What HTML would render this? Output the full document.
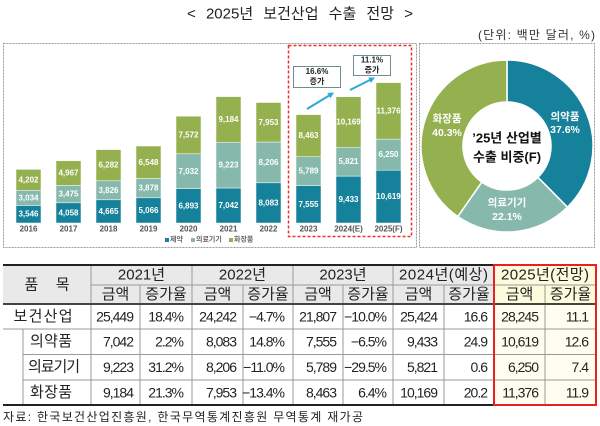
<!DOCTYPE html>
<html><head><meta charset="utf-8"><style>
html,body{margin:0;padding:0;background:#fff;}
svg{display:block;font-family:"Liberation Sans","Noto Sans CJK KR",sans-serif;}
.bl{font-size:8px;font-weight:bold;fill:#fff;text-anchor:middle;dominant-baseline:central;}
.yr{font-size:8px;font-weight:bold;fill:#555;text-anchor:middle;dominant-baseline:central;}
.th{font-size:15px;fill:#222;text-anchor:middle;dominant-baseline:central;}
.n{font-size:14px;fill:#222;text-anchor:end;dominant-baseline:central;letter-spacing:-1px;}
.rl{font-size:15px;fill:#222;text-anchor:middle;dominant-baseline:central;}
.dl{font-size:10.5px;font-weight:bold;fill:#fff;text-anchor:middle;dominant-baseline:central;}
</style></head><body>
<svg width="600" height="426" viewBox="0 0 600 426" xmlns="http://www.w3.org/2000/svg">
<!-- title -->
<text x="300" y="14" text-anchor="middle" dominant-baseline="central" font-size="15" fill="#222" word-spacing="6">&lt; 2025년 보건산업 수출 전망 &gt;</text>
<text x="595" y="35" text-anchor="end" dominant-baseline="central" font-size="12" fill="#333" textLength="117">(단위: 백만 달러, %)</text>

<!-- boxes -->
<rect x="3.5" y="43.5" width="413" height="204" fill="none" stroke="#9a9a9a" stroke-dasharray="2 1"/>
<rect x="419.5" y="43.5" width="175" height="204" fill="none" stroke="#9a9a9a" stroke-dasharray="2 1"/>
<rect x="288.5" y="45.5" width="123" height="191" fill="none" stroke="#e8302a" stroke-width="1.5" stroke-dasharray="3 2"/>

<!-- bars -->
<g stroke="#fff" stroke-width="0.5">
<rect x="16" y="205.4" width="25" height="17.6" fill="#16819a"/><rect x="16" y="190.3" width="25" height="15.1" fill="#86b9ab"/><rect x="16" y="169.4" width="25" height="20.9" fill="#95b04e"/>
<rect x="56" y="202.8" width="25" height="20.2" fill="#16819a"/><rect x="56" y="185.5" width="25" height="17.3" fill="#86b9ab"/><rect x="56" y="160.8" width="25" height="24.7" fill="#95b04e"/>
<rect x="96" y="199.8" width="25" height="23.2" fill="#16819a"/><rect x="96" y="180.8" width="25" height="19.0" fill="#86b9ab"/><rect x="96" y="149.6" width="25" height="31.2" fill="#95b04e"/>
<rect x="136" y="197.8" width="25" height="25.2" fill="#16819a"/><rect x="136" y="178.5" width="25" height="19.3" fill="#86b9ab"/><rect x="136" y="146.0" width="25" height="32.5" fill="#95b04e"/>
<rect x="176" y="188.7" width="25" height="34.3" fill="#16819a"/><rect x="176" y="153.8" width="25" height="34.9" fill="#86b9ab"/><rect x="176" y="116.2" width="25" height="37.6" fill="#95b04e"/>
<rect x="216" y="188.0" width="25" height="35.0" fill="#16819a"/><rect x="216" y="142.2" width="25" height="45.8" fill="#86b9ab"/><rect x="216" y="96.6" width="25" height="45.6" fill="#95b04e"/>
<rect x="256" y="182.8" width="25" height="40.2" fill="#16819a"/><rect x="256" y="142.0" width="25" height="40.8" fill="#86b9ab"/><rect x="256" y="102.5" width="25" height="39.5" fill="#95b04e"/>
<rect x="296" y="185.5" width="25" height="37.5" fill="#16819a"/><rect x="296" y="156.7" width="25" height="28.8" fill="#86b9ab"/><rect x="296" y="114.6" width="25" height="42.1" fill="#95b04e"/>
<rect x="336" y="176.1" width="25" height="46.9" fill="#16819a"/><rect x="336" y="147.2" width="25" height="28.9" fill="#86b9ab"/><rect x="336" y="96.7" width="25" height="50.5" fill="#95b04e"/>
<rect x="376" y="170.2" width="25" height="52.8" fill="#16819a"/><rect x="376" y="139.1" width="25" height="31.1" fill="#86b9ab"/><rect x="376" y="82.6" width="25" height="56.5" fill="#95b04e"/>
</g>
<!-- bar labels -->
<text class="bl" x="28.5" y="214.2">3,546</text><text class="bl" x="28.5" y="197.9">3,034</text><text class="bl" x="28.5" y="179.9">4,202</text>
<text class="bl" x="68.5" y="212.9">4,058</text><text class="bl" x="68.5" y="194.2">3,475</text><text class="bl" x="68.5" y="173.2">4,967</text>
<text class="bl" x="108.5" y="211.4">4,665</text><text class="bl" x="108.5" y="190.3">3,826</text><text class="bl" x="108.5" y="165.2">6,282</text>
<text class="bl" x="148.5" y="210.4">5,066</text><text class="bl" x="148.5" y="188.2">3,878</text><text class="bl" x="148.5" y="162.3">6,548</text>
<text class="bl" x="188.5" y="205.9">6,893</text><text class="bl" x="188.5" y="171.3">7,032</text><text class="bl" x="188.5" y="135.0">7,572</text>
<text class="bl" x="228.5" y="205.5">7,042</text><text class="bl" x="228.5" y="165.1">9,223</text><text class="bl" x="228.5" y="119.4">9,184</text>
<text class="bl" x="268.5" y="202.9">8,083</text><text class="bl" x="268.5" y="162.4">8,206</text><text class="bl" x="268.5" y="122.3">7,953</text>
<text class="bl" x="308.5" y="204.3">7,555</text><text class="bl" x="308.5" y="171.1">5,789</text><text class="bl" x="308.5" y="135.7">8,463</text>
<text class="bl" x="348.5" y="199.6">9,433</text><text class="bl" x="348.5" y="161.7">5,821</text><text class="bl" x="348.5" y="122.0">10,169</text>
<text class="bl" x="388.5" y="196.6">10,619</text><text class="bl" x="388.5" y="154.7">6,250</text><text class="bl" x="388.5" y="110.9">11,376</text>

<!-- year labels -->
<text class="yr" x="28.5" y="229">2016</text><text class="yr" x="68.5" y="229">2017</text><text class="yr" x="108.5" y="229">2018</text>
<text class="yr" x="148.5" y="229">2019</text><text class="yr" x="188.5" y="229">2020</text><text class="yr" x="228.5" y="229">2021</text>
<text class="yr" x="268.5" y="229">2022</text><text class="yr" x="308.5" y="229">2023</text><text class="yr" x="348.5" y="229">2024(E)</text>
<text class="yr" x="388.5" y="229">2025(F)</text>

<!-- legend -->
<rect x="165" y="238" width="4" height="4" fill="#16819a"/>
<text x="170" y="240" dominant-baseline="central" font-size="7" font-weight="bold" fill="#666">제약</text>
<rect x="191" y="238" width="4" height="4" fill="#86b9ab"/>
<text x="196" y="240" dominant-baseline="central" font-size="7" font-weight="bold" fill="#666">의료기기</text>
<rect x="229" y="238" width="4" height="4" fill="#95b04e"/>
<text x="234" y="240" dominant-baseline="central" font-size="7" font-weight="bold" fill="#666">화장품</text>

<!-- arrows -->
<line x1="307" y1="109" x2="329" y2="95.6" stroke="#2aa8d6" stroke-width="2"/>
<polygon points="334,92.5 330.5,98.2 327.3,93.0" fill="#2aa8d6"/>
<line x1="350" y1="90" x2="370" y2="80" stroke="#2aa8d6" stroke-width="2"/>
<polygon points="375,77.5 370.9,82.9 368.3,77.5" fill="#2aa8d6"/>

<!-- callouts -->
<rect x="293.5" y="66.5" width="47" height="21" fill="#fff" stroke="#6e8d96"/>
<text x="317" y="71.5" text-anchor="middle" dominant-baseline="central" font-size="8" font-weight="bold" fill="#222">16.6%</text>
<text x="317" y="81.5" text-anchor="middle" dominant-baseline="central" font-size="8" font-weight="bold" fill="#222">증가</text>
<rect x="353.5" y="55.5" width="37" height="20" fill="#fff" stroke="#6e8d96"/>
<text x="372" y="60" text-anchor="middle" dominant-baseline="central" font-size="8" font-weight="bold" fill="#222">11.1%</text>
<text x="372" y="70" text-anchor="middle" dominant-baseline="central" font-size="8" font-weight="bold" fill="#222">증가</text>

<!-- donut -->
<g stroke="#fff" stroke-width="1.5">
<path d="M507,60 A86,86 0 0 1 567.43,207.19 L537.92,177.31 A44,44 0 0 0 507,102 Z" fill="#16819a"/>
<path d="M567.43,207.19 A86,86 0 0 1 457.77,216.52 L481.81,182.08 A44,44 0 0 0 537.92,177.31 Z" fill="#86b9ab"/>
<path d="M457.77,216.52 A86,86 0 0 1 507,60 L507,102 A44,44 0 0 0 481.81,182.08 Z" fill="#95b04e"/>
</g>
<text class="dl" x="565" y="117">의약품</text><text class="dl" x="565" y="130">37.6%</text>
<text class="dl" x="447" y="119">화장품</text><text class="dl" x="447" y="133">40.3%</text>
<text class="dl" x="507" y="203">의료기기</text><text class="dl" x="507" y="217">22.1%</text>
<text x="507" y="138" text-anchor="middle" dominant-baseline="central" font-size="13" font-weight="bold" fill="#111">’25년 산업별</text>
<text x="507" y="157" text-anchor="middle" dominant-baseline="central" font-size="13" font-weight="bold" fill="#111">수출 비중(F)</text>

<!-- table backgrounds -->
<rect x="3" y="265" width="491" height="39" fill="#e9e9e9"/>
<rect x="494" y="265" width="102" height="39" fill="#fcfbdc"/>
<rect x="494" y="304" width="102" height="101" fill="#fefef0"/>
<!-- table lines -->
<g stroke="#999" stroke-width="1">
<line x1="91" y1="285" x2="596" y2="285"/>
<line x1="3" y1="329" x2="596" y2="329"/>
<line x1="23" y1="354.5" x2="596" y2="354.5"/>
<line x1="23" y1="380" x2="596" y2="380"/>
<line x1="91" y1="265" x2="91" y2="405"/>
<line x1="192" y1="265" x2="192" y2="405"/>
<line x1="293" y1="265" x2="293" y2="405"/>
<line x1="393" y1="265" x2="393" y2="405"/>
<line x1="140" y1="285" x2="140" y2="405"/>
<line x1="243" y1="285" x2="243" y2="405"/>
<line x1="343" y1="285" x2="343" y2="405"/>
<line x1="444" y1="285" x2="444" y2="405"/>
<line x1="545" y1="285" x2="545" y2="405"/>
<line x1="23" y1="329" x2="23" y2="405"/>
</g>
<line x1="3" y1="265" x2="494" y2="265" stroke="#222" stroke-width="2"/>
<line x1="3" y1="304" x2="596" y2="304" stroke="#444" stroke-width="2"/>
<line x1="3" y1="405" x2="494" y2="405" stroke="#222" stroke-width="2"/>
<rect x="494" y="265" width="102" height="140" fill="none" stroke="#e82020" stroke-width="2"/>

<!-- table header text -->
<text class="th" x="47" y="285" textLength="45">품 목</text>
<text class="th" x="141.5" y="275">2021년</text>
<text class="th" x="242.5" y="275">2022년</text>
<text class="th" x="343" y="275">2023년</text>
<text class="th" x="443.5" y="275" textLength="89">2024년(예상)</text>
<text class="th" x="545" y="275" textLength="88">2025년(전망)</text>
<text class="th" x="115.5" y="294.5">금액</text><text class="th" x="166" y="294.5">증가율</text>
<text class="th" x="217.5" y="294.5">금액</text><text class="th" x="268" y="294.5">증가율</text>
<text class="th" x="318" y="294.5">금액</text><text class="th" x="368" y="294.5">증가율</text>
<text class="th" x="418.5" y="294.5">금액</text><text class="th" x="469" y="294.5">증가율</text>
<text class="th" x="519.5" y="294.5">금액</text><text class="th" x="570.5" y="294.5">증가율</text>

<!-- row labels -->
<text class="rl" x="43" y="316.5" textLength="59">보건산업</text>
<text class="rl" x="51" y="341.5" textLength="42">의약품</text>
<text class="rl" x="54" y="367" textLength="52">의료기기</text>
<text class="rl" x="51" y="392.5" textLength="42">화장품</text>

<!-- row 1 -->
<text class="n" x="133" y="316.5">25,449</text><text class="n" x="183" y="316.5">18.4%</text>
<text class="n" x="236" y="316.5">24,242</text><text class="n" x="284" y="316.5">−4.7%</text>
<text class="n" x="336" y="316.5">21,807</text><text class="n" x="386" y="316.5">−10.0%</text>
<text class="n" x="437" y="316.5">25,424</text><text class="n" x="487" y="316.5">16.6</text>
<text class="n" x="538" y="316.5">28,245</text><text class="n" x="588" y="316.5">11.1</text>
<!-- row 2 -->
<text class="n" x="133" y="341.5">7,042</text><text class="n" x="183" y="341.5">2.2%</text>
<text class="n" x="236" y="341.5">8,083</text><text class="n" x="284" y="341.5">14.8%</text>
<text class="n" x="336" y="341.5">7,555</text><text class="n" x="386" y="341.5">−6.5%</text>
<text class="n" x="437" y="341.5">9,433</text><text class="n" x="487" y="341.5">24.9</text>
<text class="n" x="538" y="341.5">10,619</text><text class="n" x="588" y="341.5">12.6</text>
<!-- row 3 -->
<text class="n" x="133" y="367">9,223</text><text class="n" x="183" y="367">31.2%</text>
<text class="n" x="236" y="367">8,206</text><text class="n" x="284" y="367">−11.0%</text>
<text class="n" x="336" y="367">5,789</text><text class="n" x="386" y="367">−29.5%</text>
<text class="n" x="437" y="367">5,821</text><text class="n" x="487" y="367">0.6</text>
<text class="n" x="538" y="367">6,250</text><text class="n" x="588" y="367">7.4</text>
<!-- row 4 -->
<text class="n" x="133" y="392.5">9,184</text><text class="n" x="183" y="392.5">21.3%</text>
<text class="n" x="236" y="392.5">7,953</text><text class="n" x="284" y="392.5">−13.4%</text>
<text class="n" x="336" y="392.5">8,463</text><text class="n" x="386" y="392.5">6.4%</text>
<text class="n" x="437" y="392.5">10,169</text><text class="n" x="487" y="392.5">20.2</text>
<text class="n" x="538" y="392.5">11,376</text><text class="n" x="588" y="392.5">11.9</text>

<!-- footnote -->
<text x="3" y="417" dominant-baseline="central" font-size="12" fill="#222" textLength="360">자료: 한국보건산업진흥원, 한국무역통계진흥원 무역통계 재가공</text>
</svg>
</body></html>
